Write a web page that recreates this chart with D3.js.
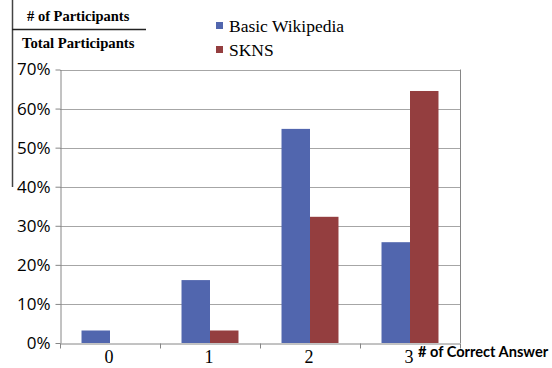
<!DOCTYPE html>
<html lang="en">
<head>
<meta charset="UTF-8">
<script src="https://d3js.org/d3.v7.min.js"></script>
<style>
  html, body { margin:0; padding:0; background:#fff; }
  svg { display:block; }
  .grid line { stroke:#a6a6a6; }
  .axis path, .axis line { stroke:#868686; }
</style>
</head>
<body>
<div id="chart"></div>
<script>
const categories=["0","1","2","3"];
const seriesNames=["Basic Wikipedia","SKNS"];
const basicWiki=[0.032,0.161,0.548,0.258];
const skns=[0,0.032,0.323,0.645];
const yTicks=[0,0.1,0.2,0.3,0.4,0.5,0.6,0.7];
const colors=["#5166ae","#943e3f"];

const width=552,height=368;
const margin={top:69.5,right:92,bottom:25,left:60};
const svg=d3.select("#chart").append("svg").attr("width",width).attr("height",height);

const x=d3.scaleBand().domain(categories).range([margin.left,width-margin.right]);
const xs=d3.scaleBand().domain(seriesNames).range([0,x.bandwidth()]).paddingInner(0).paddingOuter(0.755);
const y=d3.scaleLinear().domain([0,0.7]).range([height-margin.bottom,margin.top]);

// gridlines
svg.append("g").attr("class","grid").selectAll("line").data(yTicks.slice(1)).join("line")
  .attr("x1",margin.left).attr("x2",width-margin.right)
  .attr("y1",d=>Math.round(y(d))+0.5).attr("y2",d=>Math.round(y(d))+0.5);
// right border
svg.append("line").attr("x1",width-margin.right+0.5).attr("x2",width-margin.right+0.5)
  .attr("y1",margin.top).attr("y2",y(0)).attr("stroke","#868686");

const data=categories.map((c,i)=>({cat:c,vals:[basicWiki[i],skns[i]]}));
svg.append("g").selectAll("g").data(data).join("g")
  .attr("transform",d=>`translate(${x(d.cat)},0)`)
  .selectAll("rect").data(d=>d.vals.map((v,j)=>({s:seriesNames[j],v,j}))).join("rect")
  .attr("x",d=>xs(d.s)).attr("width",xs.bandwidth())
  .attr("y",d=>y(d.v)).attr("height",d=>y(0)-y(d.v))
  .attr("fill",d=>colors[d.j]);

// y axis
const yAxis=svg.append("g").attr("class","axis").attr("transform",`translate(${margin.left+0.5},0)`)
  .call(d3.axisLeft(y).tickValues(yTicks).tickFormat(d3.format(".0%")).tickSize(5).tickPadding(5).tickSizeOuter(0));
yAxis.selectAll("text").attr("font-family","'Open Sans', sans-serif").attr("font-size",17).attr("fill","#000");

// x axis
const xAxis=svg.append("g").attr("class","axis").attr("transform",`translate(0,${Math.round(y(0))+0.5})`)
  .call(d3.axisBottom(x).tickSize(0).tickSizeOuter(0).tickFormat(""));
xAxis.selectAll(".tickmark").data(d3.range(categories.length+1)).join("line")
  .attr("class","tickmark")
  .attr("x1",i=>margin.left+i*x.step()+0.5).attr("x2",i=>margin.left+i*x.step()+0.5)
  .attr("y1",0).attr("y2",5).attr("stroke","#868686");
svg.append("g").selectAll("text").data(categories).join("text")
  .attr("x",d=>x(d)+x.bandwidth()/2-1).attr("y",height-5)
  .attr("text-anchor","middle").attr("font-family","'Liberation Serif', serif").attr("font-size",18)
  .text(d=>d);
svg.append("text").attr("x",418).attr("y",357)
  .attr("font-family","Lato, sans-serif").attr("font-weight","bold").attr("font-size",14.6)
  .text("# of Correct Answer");

// y title as fraction
svg.append("line").attr("x1",12.5).attr("x2",12.5).attr("y1",0).attr("y2",187).attr("stroke","#444").attr("stroke-width",1.5);
svg.append("line").attr("x1",12).attr("x2",146).attr("y1",29.5).attr("y2",29.5).attr("stroke","#222").attr("stroke-width",1.3);
svg.append("text").attr("x",27).attr("y",21).attr("font-family","'Liberation Serif', serif")
  .attr("font-weight","bold").attr("font-size",14.5).text("# of Participants");
svg.append("text").attr("x",22).attr("y",48).attr("font-family","'Liberation Serif', serif")
  .attr("font-weight","bold").attr("font-size",14.7).text("Total Participants");

// legend
const legend=svg.append("g").selectAll("g").data(seriesNames).join("g")
  .attr("transform",(d,i)=>`translate(216,${22+i*24})`);
legend.append("rect").attr("width",7).attr("height",7).attr("fill",(d,i)=>colors[i]);
legend.append("text").attr("x",13).attr("y",10).attr("font-family","'Liberation Serif', serif")
  .attr("font-size",17.5).text(d=>d);
</script>
</body>
</html>
